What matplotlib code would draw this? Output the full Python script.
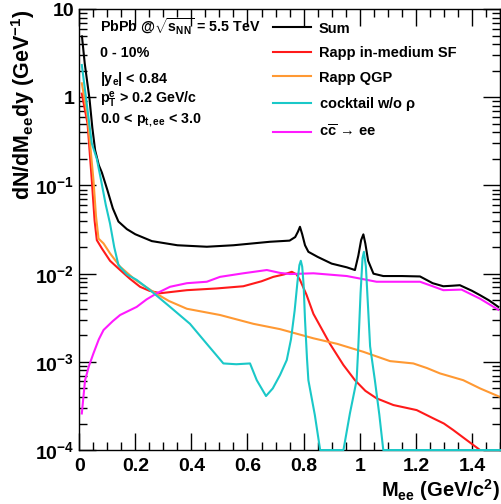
import numpy as np
import matplotlib
matplotlib.use('Agg')
import matplotlib.pyplot as plt
from matplotlib.ticker import MultipleLocator, LogLocator, NullFormatter

plt.rcParams['font.family'] = ['Liberation Sans', 'DejaVu Sans']
plt.rcParams['font.weight'] = 'bold'
plt.rcParams['axes.labelweight'] = 'bold'
plt.rcParams['mathtext.fontset'] = 'custom'
plt.rcParams['mathtext.rm'] = 'Liberation Sans:bold'
plt.rcParams['mathtext.it'] = 'Liberation Sans:bold'
plt.rcParams['mathtext.bf'] = 'Liberation Sans:bold'
plt.rcParams['mathtext.default'] = 'rm'

# Sum
m_sum = [0.01, 0.02, 0.037, 0.047, 0.057, 0.07, 0.081, 0.10, 0.12, 0.14, 0.17, 0.20,
         0.259, 0.35, 0.455, 0.55, 0.68, 0.75, 0.77, 0.78, 0.787, 0.795, 0.805, 0.817,
         0.85, 0.90, 0.954, 0.983, 0.995, 1.005, 1.013, 1.02, 1.03, 1.049, 1.084, 1.15,
         1.215, 1.26, 1.298, 1.33, 1.357, 1.40, 1.429, 1.46, 1.494]
y_sum = [4.9, 2.4, 0.95, 0.45, 0.25, 0.17, 0.14, 0.09, 0.055, 0.039, 0.032, 0.028,
         0.0234, 0.021, 0.0202, 0.021, 0.023, 0.0237, 0.026, 0.030, 0.034, 0.028, 0.021,
         0.0177, 0.0155, 0.013, 0.0118, 0.011, 0.016, 0.024, 0.0279, 0.022, 0.014, 0.010,
         0.0094, 0.0094, 0.0093, 0.0078, 0.0072, 0.0073, 0.0074, 0.0064, 0.0057, 0.005,
         0.0042]

# Rapp in-medium SF
m_sf = [0.0095, 0.03, 0.045, 0.055, 0.063, 0.081, 0.11, 0.146, 0.18, 0.217, 0.25, 0.289,
        0.384, 0.49, 0.585, 0.65, 0.692, 0.73, 0.758, 0.775, 0.787, 0.81, 0.835, 0.894,
        0.942, 0.983, 1.02, 1.06, 1.12, 1.203, 1.262, 1.30, 1.333, 1.381, 1.429]
y_sf = [1.1, 0.5, 0.115, 0.04, 0.024, 0.0193, 0.014, 0.011, 0.0088, 0.0071, 0.0064, 0.006,
        0.0065, 0.0068, 0.0072, 0.0082, 0.0092, 0.0098, 0.0105, 0.0098, 0.0085, 0.0058,
        0.0035, 0.0016, 0.00092, 0.00062, 0.00047, 0.000386, 0.000324, 0.000284,
        0.000229, 0.0002, 0.000169, 0.00013, 0.0001]

# Rapp QGP
m_qgp = [0.0095, 0.03, 0.051, 0.06, 0.069, 0.087, 0.11, 0.146, 0.20, 0.265, 0.32, 0.384,
         0.502, 0.621, 0.716, 0.835, 0.92, 1.013, 1.108, 1.191, 1.24, 1.286, 1.369, 1.429,
         1.5]
y_qgp = [1.44, 0.6, 0.115, 0.045, 0.025, 0.022, 0.017, 0.012, 0.0085, 0.0062, 0.0049,
         0.004, 0.0034, 0.0027, 0.00235, 0.00185, 0.0016, 0.0013, 0.00102, 0.00096,
         0.00085, 0.00074, 0.00062, 0.0005, 0.0004]

# cocktail w/o rho
m_ck = [0.0095, 0.045, 0.063, 0.078, 0.095, 0.11, 0.125, 0.14, 0.17, 0.205, 0.253,
        0.324, 0.395, 0.455, 0.514, 0.56, 0.609, 0.633, 0.666, 0.69, 0.716, 0.74, 0.755,
        0.768, 0.778, 0.785, 0.79, 0.795, 0.80, 0.805, 0.812, 0.817, 0.84, 0.859, 0.87,
        0.93, 0.942, 0.965, 0.989, 0.995, 1.003, 1.01, 1.015, 1.022, 1.03, 1.037, 1.054,
        1.07, 1.084, 1.1, 1.5]
y_ck = [2.32, 0.30, 0.2, 0.115, 0.06, 0.037, 0.02, 0.0125, 0.0098, 0.0085, 0.0065,
        0.0042, 0.0027, 0.0016, 0.00096, 0.00094, 0.00096, 0.00062, 0.00041, 0.0005,
        0.00071, 0.00105, 0.0018, 0.0038, 0.008, 0.0125, 0.014, 0.012, 0.0075, 0.003,
        0.0011, 0.00062, 0.00025, 0.0001, 0.0001, 0.0001, 0.0001, 0.00026, 0.00062,
        0.0015, 0.006, 0.015, 0.0177, 0.012, 0.004, 0.0015, 0.00062, 0.00025, 0.0001,
        0.0001, 0.0001]

# c cbar -> ee
m_cc = [0.0095, 0.021, 0.035, 0.051, 0.07, 0.087, 0.12, 0.146, 0.205, 0.24, 0.277,
        0.324, 0.384, 0.455, 0.502, 0.585, 0.669, 0.716, 0.752, 0.835, 0.954, 1.06,
        1.215, 1.26, 1.298, 1.363, 1.429, 1.494]
y_cc = [0.00026, 0.00062, 0.0009, 0.00125, 0.0018, 0.0023, 0.0029, 0.0034, 0.0042,
        0.0051, 0.006, 0.0071, 0.0078, 0.0081, 0.0092, 0.0101, 0.011, 0.0102, 0.0099,
        0.0101, 0.0094, 0.0081, 0.0081, 0.0072, 0.0065, 0.0066, 0.0052, 0.0039]

ytick_vals = [1e-4, 1e-3, 1e-2, 1e-1, 1, 10]
ytick_labels = ['$10^{-4}$', '$10^{-3}$', '$10^{-2}$', '$10^{-1}$', '1', '10']

fig = plt.figure(figsize=(5.01, 5.04), dpi=100)
ax = fig.add_axes([0.158, 0.107, 0.84, 0.875])

ax.plot(m_sum, y_sum, color='black', lw=1.5, label='Sum')
ax.plot(m_sf, y_sf, color='#ff1a1a', lw=1.5, label='Rapp in-medium SF')
ax.plot(m_qgp, y_qgp, color='#ff9933', lw=1.5, label='Rapp QGP')
ax.plot(m_ck, y_ck, color='#1ac8c8', lw=1.5, label=r'cocktail w/o $\rho$',
        clip_on=False, zorder=3)
ax.plot(m_cc, y_cc, color='#ff1aff', lw=1.5, label=r'c$\overline{\mathrm{c}}$ → ee')

ax.set_yscale('log')
ax.set_xlim(0, 1.5)
ax.set_ylim(1e-4, 10)
ax.set_yticks(ytick_vals)
ax.set_yticklabels(ytick_labels)
ax.yaxis.set_minor_locator(LogLocator(base=10, subs=np.arange(2, 10)))
ax.yaxis.set_minor_formatter(NullFormatter())
ax.xaxis.set_major_locator(MultipleLocator(0.2))
ax.xaxis.set_minor_locator(MultipleLocator(0.05))
ax.xaxis.set_major_formatter(plt.FuncFormatter(lambda v, p: '%g' % round(v, 2)))

ax.tick_params(which='both', direction='in', top=True, right=True, labelsize=14, width=1)
ax.tick_params(which='major', length=12)
ax.tick_params(which='minor', length=6)
ax.tick_params(axis='x', pad=6)
for s in ax.spines.values():
    s.set_linewidth(1)

ax.set_xlabel('M$_{ee}$ (GeV/c$^{2}$)', fontsize=14.5, loc='right', labelpad=1)
ax.set_ylabel('dN/dM$_{ee}$dy (GeV$^{-1}$)', fontsize=15.5, loc='top')
ax.yaxis.set_label_coords(-0.1, 1.0)

fs = 10.3
ax.text(0.05, 0.959, r'PbPb @$\sqrt{s_{NN}}$ = 5.5 TeV', transform=ax.transAxes, fontsize=fs, va='center')
ax.text(0.05, 0.900, '0 - 10%', transform=ax.transAxes, fontsize=fs, va='center')
ax.text(0.05, 0.841, '|y$_{e}$| < 0.84', transform=ax.transAxes, fontsize=fs, va='center')
ax.text(0.05, 0.794, 'p$_{T}^{e}$ > 0.2 GeV/c', transform=ax.transAxes, fontsize=fs, va='center')
ax.text(0.05, 0.748, '0.0 < p$_{t,ee}$ < 3.0', transform=ax.transAxes, fontsize=fs, va='center')

ax.legend(loc='upper left', bbox_to_anchor=(0.446, 0.985), frameon=False, fontsize=10.5,
          handlelength=2.6, handletextpad=0.55, labelspacing=0.72, borderaxespad=0)

fig.savefig('out.png', dpi=100)
